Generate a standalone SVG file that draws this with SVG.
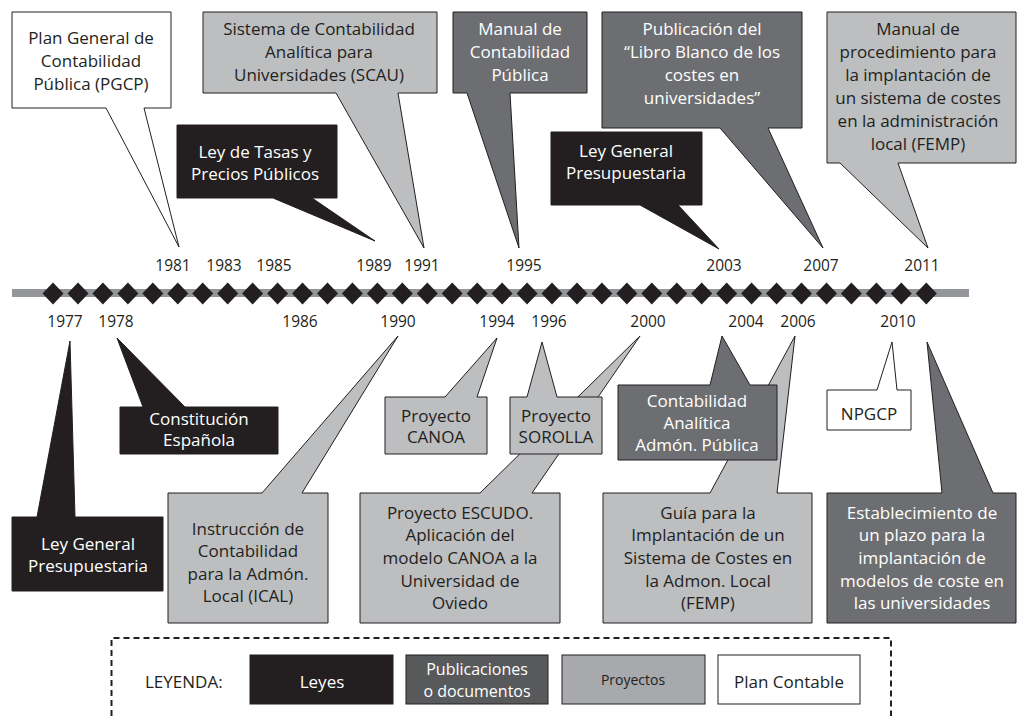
<svg xmlns="http://www.w3.org/2000/svg" width="1018" height="716" viewBox="0 0 1018 716">
<style>
.t{font-family:"Open Sans","Liberation Sans",Arial,sans-serif;font-size:17px;text-anchor:middle}
.w{fill:#ffffff}
.d{fill:#231f20}
.yr{font-family:"Open Sans","Liberation Sans",Arial,sans-serif;font-size:15.5px;fill:#231f20;text-anchor:middle}
.cb{fill:#231f20;stroke:#231f20;stroke-width:1}
.cg{fill:#6d6e71;stroke:#231f20;stroke-width:1}
.cl{fill:#bcbec0;stroke:#231f20;stroke-width:1}
.cw{fill:#ffffff;stroke:#231f20;stroke-width:1}
</style>
<defs>
<polygon id="dm" points="0,-11 10.5,0 0,11 -10.5,0" fill="#231f20"/>
</defs>
<rect width="1018" height="716" fill="#ffffff"/>

<g id="timeline">
<rect x="12" y="289" width="957" height="8" fill="#939598"/>
<g transform="translate(0,293.5)">
<use href="#dm" x="53"/><use href="#dm" x="78"/><use href="#dm" x="102.9"/><use href="#dm" x="127.9"/><use href="#dm" x="152.8"/><use href="#dm" x="177.8"/><use href="#dm" x="202.7"/><use href="#dm" x="227.7"/><use href="#dm" x="252.6"/><use href="#dm" x="277.6"/><use href="#dm" x="302.5"/><use href="#dm" x="327.5"/><use href="#dm" x="352.4"/><use href="#dm" x="377.4"/><use href="#dm" x="402.3"/><use href="#dm" x="427.3"/><use href="#dm" x="452.2"/><use href="#dm" x="477.2"/><use href="#dm" x="502.1"/><use href="#dm" x="527.1"/><use href="#dm" x="552"/><use href="#dm" x="577"/><use href="#dm" x="601.9"/><use href="#dm" x="626.9"/><use href="#dm" x="651.8"/><use href="#dm" x="676.8"/><use href="#dm" x="701.7"/><use href="#dm" x="726.7"/><use href="#dm" x="751.6"/><use href="#dm" x="776.6"/><use href="#dm" x="801.5"/><use href="#dm" x="826.5"/><use href="#dm" x="851.4"/><use href="#dm" x="876.4"/><use href="#dm" x="901.3"/><use href="#dm" x="926.3"/>
</g>
<text class="yr" x="173" y="271">1981</text>
<text class="yr" x="224" y="271">1983</text>
<text class="yr" x="274" y="271">1985</text>
<text class="yr" x="374" y="271">1989</text>
<text class="yr" x="422" y="271">1991</text>
<text class="yr" x="524" y="271">1995</text>
<text class="yr" x="724" y="271">2003</text>
<text class="yr" x="821" y="271">2007</text>
<text class="yr" x="922" y="271">2011</text>
<text class="yr" x="65" y="327">1977</text>
<text class="yr" x="116" y="327">1978</text>
<text class="yr" x="300" y="327">1986</text>
<text class="yr" x="398" y="327">1990</text>
<text class="yr" x="497" y="327">1994</text>
<text class="yr" x="549" y="327">1996</text>
<text class="yr" x="648" y="327">2000</text>
<text class="yr" x="746" y="327">2004</text>
<text class="yr" x="798" y="327">2006</text>
<text class="yr" x="898" y="327">2010</text>
</g>

<g id="pgcp">
<path class="cw" d="M12 12 H171 V108 H144 L179 247 L106 108 H12 Z"/>
<text class="t d" x="91" y="44">Plan General de</text>
<text class="t d" x="91" y="67">Contabilidad</text>
<text class="t d" x="91" y="90">Pública (PGCP)</text>
</g>

<g id="scau">
<path class="cl" d="M203 12 H437 V93 H398 L424 248 L336 93 H203 Z"/>
<text class="t d" x="319" y="35">Sistema de Contabilidad</text>
<text class="t d" x="319" y="58">Analítica para</text>
<text class="t d" x="319" y="81">Universidades (SCAU)</text>
</g>

<g id="ley-tasas">
<path class="cb" d="M177 125 H337 V198 H312 L375 241 L273 198 H177 Z"/>
<text class="t w" x="255" y="158">Ley de Tasas y</text>
<text class="t w" x="255" y="180">Precios Públicos</text>
</g>

<g id="manual-contabilidad">
<path class="cg" d="M453 12 H587 V93 H510 L519 248 L467 93 H453 Z"/>
<text class="t w" x="520" y="35">Manual de</text>
<text class="t w" x="520" y="58">Contabilidad</text>
<text class="t w" x="520" y="81">Pública</text>
</g>

<g id="libro-blanco">
<path class="cg" d="M602 12 H802 V128 H768 L823 248 L720 128 H602 Z"/>
<text class="t w" x="702" y="35">Publicación del</text>
<text class="t w" x="702" y="58">“Libro Blanco de los</text>
<text class="t w" x="702" y="81">costes en</text>
<text class="t w" x="702" y="104">universidades”</text>
</g>

<g id="lgp-2003">
<path class="cb" d="M551 132 H702 V205 H678 L719 249 L640 205 H551 Z"/>
<text class="t w" x="626" y="157">Ley General</text>
<text class="t w" x="626" y="179">Presupuestaria</text>
</g>

<g id="manual-femp">
<path class="cl" d="M827 12 H1016 V163 H898 L928 248 L840 163 H827 Z"/>
<text class="t d" x="918" y="35">Manual de</text>
<text class="t d" x="918" y="58">procedimiento para</text>
<text class="t d" x="918" y="81">la implantación de</text>
<text class="t d" x="918" y="104">un sistema de costes</text>
<text class="t d" x="918" y="127">en la administración</text>
<text class="t d" x="918" y="150">local (FEMP)</text>
</g>

<g id="lgp-1977">
<path class="cb" d="M12 517 H37 L70 341 L75 517 H163 V591 H12 Z"/>
<text class="t w" x="88" y="550">Ley General</text>
<text class="t w" x="88" y="572">Presupuestaria</text>
</g>

<g id="constitucion">
<path class="cb" d="M120 407 H143 L117 338 L185 407 H278 V454 H120 Z"/>
<text class="t w" x="199" y="425">Constitución</text>
<text class="t w" x="199" y="446">Española</text>
</g>

<g id="ical">
<path class="cl" d="M168 493 H262 L398 336 L302 493 H328 V623 H168 Z"/>
<text class="t d" x="248" y="535">Instrucción de</text>
<text class="t d" x="248" y="557">Contabilidad</text>
<text class="t d" x="248" y="580">para la Admón.</text>
<text class="t d" x="248" y="602">Local (ICAL)</text>
</g>

<g id="escudo">
<path class="cl" d="M360 493 H480 L640 336 L532 493 H560 V623 H360 Z"/>
<text class="t d" x="460" y="519">Proyecto ESCUDO.</text>
<text class="t d" x="460" y="541">Aplicación del</text>
<text class="t d" x="460" y="564">modelo CANOA a la</text>
<text class="t d" x="460" y="587">Universidad de</text>
<text class="t d" x="460" y="609">Oviedo</text>
</g>

<g id="canoa">
<path class="cl" d="M385 397 H445 L497 338 L477 397 H487 V454 H385 Z"/>
<text class="t d" x="436" y="422">Proyecto</text>
<text class="t d" x="436" y="443">CANOA</text>
</g>

<g id="sorolla">
<path class="cl" d="M510 397 H527 L542 342 L557 397 H602 V454 H510 Z"/>
<text class="t d" x="556" y="422">Proyecto</text>
<text class="t d" x="556" y="443">SOROLLA</text>
</g>

<g id="guia-femp">
<path class="cl" d="M603 493 H710 L795 336 L777 493 H812 V623 H603 Z"/>
<text class="t d" x="708" y="519">Guía para la</text>
<text class="t d" x="708" y="541">Implantación de un</text>
<text class="t d" x="708" y="564">Sistema de Costes en</text>
<text class="t d" x="708" y="587">la Admon. Local</text>
<text class="t d" x="708" y="609">(FEMP)</text>
</g>

<g id="contabilidad-analitica">
<path class="cg" d="M618 385 H710 L722 336 L750 385 H777 V460 H618 Z"/>
<text class="t w" x="697" y="407">Contabilidad</text>
<text class="t w" x="697" y="429">Analítica</text>
<text class="t w" x="697" y="451">Admón. Pública</text>
</g>

<g id="npgcp">
<path class="cw" d="M827 390 H877 L892 342 L897 390 H911 V430 H827 Z"/>
<text class="t d" x="869" y="420">NPGCP</text>
</g>

<g id="establecimiento">
<path class="cg" d="M827 493 H942 L927 342 L993 493 H1016 V623 H827 Z"/>
<text class="t w" x="922" y="519">Establecimiento de</text>
<text class="t w" x="922" y="541">un plazo para la</text>
<text class="t w" x="922" y="564">implantación de</text>
<text class="t w" x="922" y="587">modelos de coste en</text>
<text class="t w" x="922" y="609">las universidades</text>
</g>

<g id="leyenda">
<path d="M111.5 716 V638 H891 V716" fill="none" stroke="#231f20" stroke-width="2" stroke-dasharray="6 4"/>
<text class="t d" x="145" y="688" style="text-anchor:start">LEYENDA:</text>
<rect class="cb" x="250" y="655" width="143" height="49"/>
<text class="t w" x="322" y="688">Leyes</text>
<rect x="406" y="655" width="142" height="49" fill="#58595b" stroke="#231f20" stroke-width="1"/>
<text class="t w" x="477" y="675" style="font-size:16px">Publicaciones</text>
<text class="t w" x="477" y="697" style="font-size:16px">o documentos</text>
<rect x="562" y="655" width="143" height="49" fill="#a7a9ac" stroke="#231f20" stroke-width="1"/>
<text class="t d" x="633" y="685" style="font-size:14px">Proyectos</text>
<rect class="cw" x="718" y="655" width="142" height="49"/>
<text class="t d" x="789" y="688">Plan Contable</text>
</g>
</svg>
